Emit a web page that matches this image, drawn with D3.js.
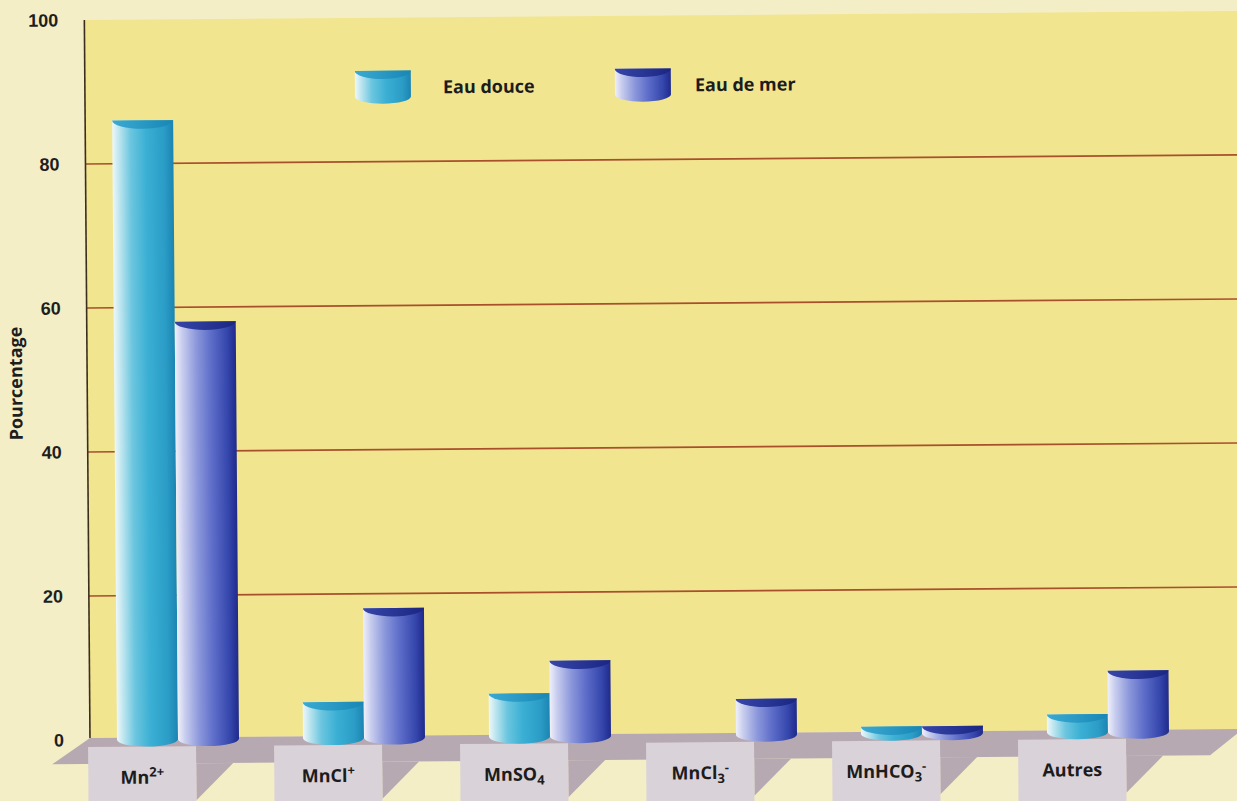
<!DOCTYPE html>
<html><head><meta charset="utf-8">
<script src="https://cdn.jsdelivr.net/npm/d3@7"></script>
<style>html,body{margin:0;padding:0;background:#f4eec6;} svg{display:block}</style>
</head><body><svg id="chart" width="1237" height="801"></svg>
<script>
// Manganese species share (%) in fresh water and sea water
const categories = ["Mn2+", "MnCl+", "MnSO4", "MnCl3-", "MnHCO3-", "Autres"];
const eauDouce = [86, 5, 6, 0, 1, 2.5];
const eauDeMer = [58, 18, 10.5, 5, 1, 8.5];
const seriesNames = ["Eau douce", "Eau de mer"];
const yTicks = [0, 20, 40, 60, 80, 100];
const gridTicks = [20, 40, 60, 80];
const yTitle = "Pourcentage";
// category labels split into normal / superscript / subscript runs
const categoryLabels = [
  [["Mn", "n"], ["2+", "sup"]],
  [["MnCl", "n"], ["+", "sup"]],
  [["MnSO", "n"], ["4", "sub"]],
  [["MnCl", "n"], ["3", "sub"], ["-", "sup"]],
  [["MnHCO", "n"], ["3", "sub"], ["-", "sup"]],
  [["Autres", "n"]]
];

const W = 1237, H = 801;
const axisX = 90;
const svg = d3.select("#chart");

const y = d3.scaleLinear().domain([0, 100]).range([740, 20]);
const x = d3.scaleBand().domain(categories).range([85, 1201]);
const barW = 61;
const center = c => x(c) + x.bandwidth() / 2;

// gradients for the cylinders
const defs = svg.append("defs");
function grad(id, stops) {
  const g = defs.append("linearGradient").attr("id", id)
    .attr("x1", "0%").attr("x2", "100%").attr("y1", "0%").attr("y2", "0%");
  stops.forEach(([o, c]) => g.append("stop").attr("offset", o).attr("stop-color", c));
}
grad("douceBody", [[0, "#eef8fa"], [0.1, "#c2e7f0"], [0.3, "#6cc6df"], [0.55, "#3bb0d4"], [0.85, "#2a9cc6"], [1, "#1c84b2"]]);
grad("douceCap", [[0, "#3aaad2"], [1, "#1986b5"]]);
grad("merBody", [[0, "#eff0fa"], [0.12, "#c8cdee"], [0.35, "#8c98db"], [0.6, "#5c6cc8"], [0.85, "#3647ad"], [1, "#1f2a8c"]]);
grad("merCap", [[0, "#3646a8"], [1, "#1b2682"]]);
const fills = [["url(#douceBody)", "url(#douceCap)"], ["url(#merBody)", "url(#merCap)"]];

// whole drawing sits on a very slightly tilted plane
const g = svg.append("g").attr("transform", `rotate(-0.45, ${axisX}, ${y(0)})`);

// back wall
g.append("rect").attr("x", axisX).attr("y", y(100))
  .attr("width", W - axisX + 40).attr("height", y(0) - 2 - y(100))
  .attr("fill", "#f1e58f");

// gridlines
g.append("g").selectAll("line").data(gridTicks).join("line")
  .attr("x1", axisX).attr("x2", W + 40)
  .attr("y1", d => y(d)).attr("y2", d => y(d))
  .attr("stroke", "#a84f2c").attr("stroke-width", 1.7);

// value axis
g.append("line").attr("x1", axisX).attr("x2", axisX)
  .attr("y1", y(100)).attr("y2", y(0) - 2)
  .attr("stroke", "#3a2e1e").attr("stroke-width", 1.6);

g.append("g").selectAll("text").data(yTicks).join("text")
  .attr("x", 64).attr("y", d => y(d)).attr("dy", "0.35em")
  .attr("text-anchor", "end")
  .attr("font-family", "'Liberation Sans', Arial, sans-serif")
  .attr("font-weight", "bold").attr("font-size", 18).attr("fill", "#1e1e1e")
  .text(d => d);

g.append("text")
  .attr("transform", `translate(25, ${383}) rotate(-90)`)
  .attr("text-anchor", "middle")
  .attr("font-family", "'Open Sans', sans-serif")
  .attr("font-weight", "bold").attr("font-size", 18).attr("fill", "#1e1e1e")
  .text(yTitle);

// floor slab
const backY = y(0) - 2, frontY = 764, depthX = 37;
const floorColor = "#b7a9b2";
g.append("polygon")
  .attr("points", [[axisX, backY], [W + 6, backY], [W + 6 - depthX + 4, frontY], [axisX - depthX - 1, frontY]].join(" "))
  .attr("fill", floorColor);

// label cards under each category
const labelShift = -36;
const cards = g.append("g").selectAll("g").data(categories).join("g");
cards.append("polygon")
  .attr("points", c => {
    const x1 = center(c) + labelShift + 54;
    return [[x1, frontY], [x1 + depthX, frontY], [x1, frontY + depthX]].join(" ");
  })
  .attr("fill", floorColor);
cards.append("rect")
  .attr("x", c => center(c) + labelShift - 54).attr("y", 747)
  .attr("width", 108).attr("height", 80)
  .attr("fill", "#dad2d9");
cards.append("text")
  .attr("x", c => center(c) + labelShift).attr("y", 784)
  .attr("text-anchor", "middle")
  .attr("font-family", "'Open Sans', sans-serif")
  .attr("font-weight", "bold").attr("font-size", 18).attr("fill", "#1c1c1c")
  .each(function (c, i) {
    const t = d3.select(this);
    let shift = 0;
    categoryLabels[i].forEach(([txt, role]) => {
      const target = role === "sup" ? -7 : role === "sub" ? 4 : 0;
      t.append("tspan").attr("dy", target - shift)
        .attr("font-size", role === "n" ? 18 : 13).text(txt);
      shift = target;
    });
  });

// cylinder shape
function cylinder(sel, x0, x1, yTopV, yBaseV, si) {
  const rx = (x1 - x0) / 2, ry = 7;
  sel.append("path")
    .attr("d", `M${x0},${yTopV} L${x0},${yBaseV} A${rx},${ry} 0 0 0 ${x1},${yBaseV} L${x1},${yTopV} Z`)
    .attr("fill", fills[si][0]);
  sel.append("path")
    .attr("d", `M${x0},${yTopV} A${rx},${ry * 1.2} 0 0 0 ${x1},${yTopV} Z`)
    .attr("fill", fills[si][1]);
}

// bars
const bars = g.append("g");
[eauDouce, eauDeMer].forEach((vals, si) => {
  categories.forEach((c, i) => {
    const v = vals[i];
    if (v <= 0) return;
    const x0 = si === 0 ? center(c) - barW : center(c);
    cylinder(bars.append("g"), x0, x0 + barW, y(v), y(0), si);
  });
});

// legend
const legendPos = [[360, 448], [620, 700]];
seriesNames.forEach((name, si) => {
  const lg = g.append("g");
  const [ix, tx] = legendPos[si];
  cylinder(lg, ix, ix + 56, 73, 99, si);
  lg.append("text").attr("x", tx).attr("y", 96)
    .attr("font-family", "'Open Sans', sans-serif")
    .attr("font-weight", "bold").attr("font-size", 18).attr("fill", "#1c1c1c")
    .text(name);
});
</script></body></html>
